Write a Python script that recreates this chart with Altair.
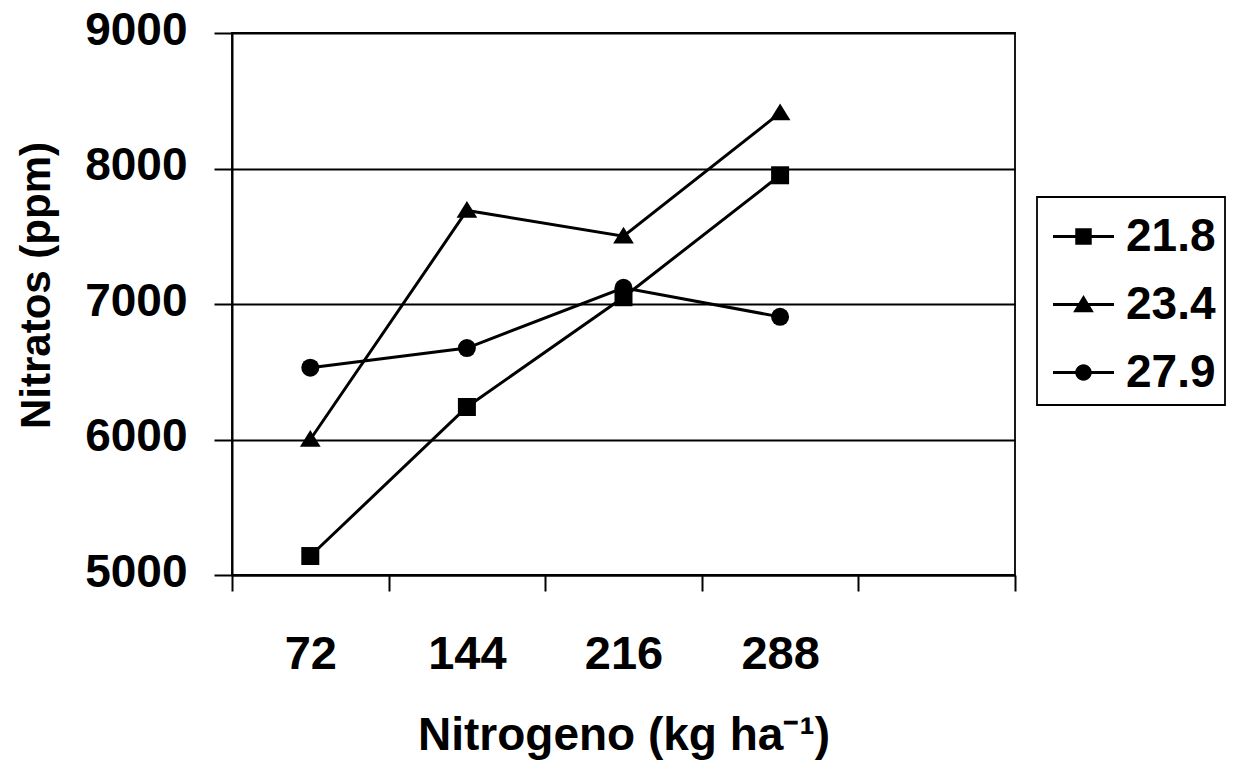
import altair as alt
import pandas as pd

# ---- data ----
nitrogeno = ["72", "144", "216", "288"]
series = ["21.8", "23.4", "27.9"]
v_218 = [5140, 6240, 7050, 7950]
v_234 = [6000, 7690, 7500, 8410]
v_279 = [6530, 6675, 7120, 6905]
y_ticks = [5000, 6000, 7000, 8000, 9000]

rows = []
for s, vals in zip(series, [v_218, v_234, v_279]):
    for n, v in zip(nitrogeno, vals):
        rows.append({"N": n, "serie": s, "nitratos": v})
df = pd.DataFrame(rows)

x_domain = nitrogeno + [" "]
FONT = "Liberation Sans"

marker_paths = [
    "M-1,-1H1V1H-1Z",
    "M0,-1.05L1.15,0.8L-1.15,0.8Z",
    "circle",
]
legend_paths = [
    "M-1,-0.05H1V0.05H-1Z M-0.27,-0.27H0.27V0.27H-0.27Z",
    "M-1,-0.05H1V0.05H-1Z M0,-0.31L0.34,0.25L-0.34,0.25Z",
    "M-1,-0.05H1V0.05H-1Z M0.27,0A0.27,0.27,0,1,1,-0.27,0A0.27,0.27,0,1,1,0.27,0Z",
]

x_enc = alt.X(
    "N:N",
    sort=x_domain,
    bandPosition=0.5,
    scale=alt.Scale(type="band", domain=x_domain, paddingInner=0, paddingOuter=0),
    axis=alt.Axis(
        title="Nitrogeno (kg ha⁻¹)",
        titleFontSize=46,
        titleFontWeight="bold",
        titleFont=FONT,
        titleColor="black",
        titleY=174,
        titleBaseline="alphabetic",
        labelAngle=0,
        labelFontSize=47,
        labelFontWeight="bold",
        labelFont=FONT,
        labelColor="black",
        labelBaseline="alphabetic",
        labelPadding=77,
        tickBand="extent",
        tickSize=16,
        tickColor="black",
        tickWidth=2,
        domainColor="black",
        domainWidth=2,
        grid=False,
    ),
)

y_enc = alt.Y(
    "nitratos:Q",
    scale=alt.Scale(domain=[5000, 9000], nice=False, zero=False),
    axis=alt.Axis(
        title="Nitratos (ppm)",
        titleFontSize=42,
        titleFontWeight="bold",
        titleFont=FONT,
        titleColor="black",
        titleX=-196,
        titleY=252,
        titleAlign="center",
        titleBaseline="middle",
        values=y_ticks,
        format="d",
        labelFontSize=46,
        labelFontWeight="bold",
        labelFont=FONT,
        labelColor="black",
        labelPadding=27,
        labelOffset=-3,
        tickSize=18,
        tickColor="black",
        tickWidth=2,
        domainColor="black",
        domainWidth=2,
        grid=True,
        gridColor="black",
        gridWidth=1.8,
        gridOpacity=1,
    ),
)

base = alt.Chart(df)

lines = base.mark_line(color="black", strokeWidth=3).encode(
    x=x_enc, y=y_enc, detail="serie:N"
)

points = base.mark_point(filled=True, color="black", opacity=1).encode(
    x=x_enc,
    y=y_enc,
    shape=alt.Shape(
        "serie:N",
        scale=alt.Scale(domain=series, range=marker_paths),
        legend=None,
    ),
    size=alt.value(324),
)

legend_layer = (
    base.transform_filter("false")
    .mark_point(filled=True, color="black", opacity=1)
    .encode(
        x=x_enc,
        y=y_enc,
        shape=alt.Shape(
            "serie:N",
            scale=alt.Scale(domain=series, range=legend_paths),
            legend=alt.Legend(
                title=None,
                orient="none",
                legendX=805,
                legendY=164,
                symbolSize=3721,
                symbolFillColor="black",
                symbolStrokeWidth=0,
                symbolOffset=7,
                labelFontSize=46,
                labelFontWeight="bold",
                labelFont=FONT,
                labelColor="black",
                labelOffset=12,
                labelLimit=300,
                rowPadding=14,
                padding=9,
                strokeColor="black",
                fillColor="white",
            ),
        ),
    )
)

chart = (
    alt.layer(lines, points, legend_layer)
    .resolve_scale(shape="independent")
    .properties(
        width=783,
        height=542,
        autosize=alt.AutoSizeParams(type="none"),
        padding={"left": 232, "top": 33, "right": 221, "bottom": 194},
        background="white",
    )
    .configure_view(stroke="black", strokeWidth=1.8)
    .configure_legend(strokeWidth=1.8)
)

chart.save("out.html", embed_options={"renderer": "svg", "actions": False})
